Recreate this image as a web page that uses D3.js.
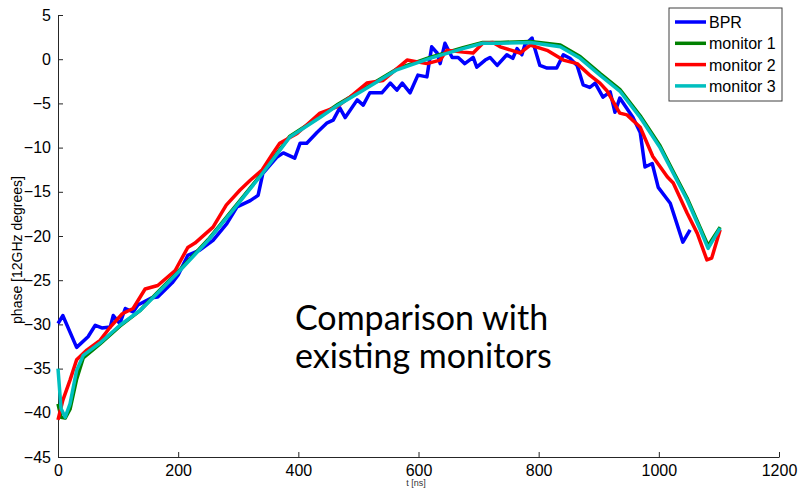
<!DOCTYPE html>
<html>
<head>
<meta charset="utf-8">
<script src="https://cdn.jsdelivr.net/npm/d3@7"></script>
<style>
  body { margin: 0; background: #fff; }
  svg { display: block; }
</style>
</head>
<body>
<div id="chart"></div>
<script>
// BPR (noisy)
var bprT = [0, 8, 31, 50, 62, 73, 87, 92, 103, 112, 125, 133, 156, 166, 190, 200, 216, 236, 258, 281, 298, 320, 333, 341, 364, 375, 394, 403, 414, 431, 448, 458, 469, 478, 498, 508, 519, 539, 553, 564, 573, 586, 599, 614, 622, 631, 636, 644, 656, 666, 677, 691, 697, 711, 719, 731, 747, 757, 764, 772, 777, 789, 791, 802, 814, 830, 841, 852, 864, 874, 885, 894, 907, 919, 927, 935, 957, 969, 977, 989, 999, 1019, 1030, 1040, 1052];
var bprV = [-29.9, -29, -32.6, -31.4, -30.1, -30.4, -30.3, -29, -29.9, -28.2, -28.6, -27.8, -27, -26.9, -25.3, -24.4, -22.2, -21.6, -20.5, -18.6, -16.7, -16, -15.4, -12.9, -11.1, -10.6, -11.2, -9.5, -9.5, -8.3, -7.2, -6.9, -5.5, -6.6, -4.6, -5.2, -3.8, -3.8, -2.7, -3.5, -2.7, -3.8, -1.8, -2.0, 1.4, 0.7, -0.5, 1.8, 0.2, 0.2, -0.5, 0.2, -0.9, -0.1, 0.2, -0.7, 0.5, 0.1, 1.2, 0.5, 1.6, 2.4, 1.8, -0.7, -1.0, -1.0, 0.5, 0.1, -0.7, -2.9, -3.2, -2.7, -4.3, -3.7, -6, -4.4, -6.6, -8.3, -12.2, -11.8, -14.5, -16.3, -18.6, -20.7, -19.3];

// monitor 1
var mon1T = [0, 5, 12, 20, 31, 42, 70, 103, 137, 161, 203, 250, 291, 336, 386, 436, 466, 508, 564, 619, 674, 707, 736, 786, 836, 869, 902, 935, 969, 1002, 1024, 1047, 1069, 1082, 1102];
var mon1V = [-39, -40.5, -40.6, -39.6, -36.2, -33.8, -32.2, -30.2, -28.4, -26.7, -23.8, -20.4, -17, -13.2, -8.7, -6.5, -5.1, -3.4, -1.1, 0.2, 1.3, 1.9, 1.9, 2.0, 1.6, 0.3, -1.6, -3.4, -6.4, -9.8, -12.7, -15.7, -19.1, -21.1, -19.0];

// monitor 2
var mon2T = [0, 8, 20, 31, 48, 70, 87, 107, 125, 145, 166, 195, 216, 228, 258, 280, 303, 320, 340, 358, 369, 398, 436, 464, 486, 514, 541, 581, 614, 636, 647, 674, 691, 707, 724, 736, 769, 786, 814, 841, 864, 885, 902, 914, 935, 947, 969, 990, 1014, 1024, 1047, 1064, 1080, 1088, 1102];
var mon2V = [-40.8, -38.6, -36.3, -34, -32.9, -31.8, -30.3, -28.8, -28.2, -26, -25.6, -23.9, -21.3, -20.8, -19, -16.5, -14.8, -13.7, -12.5, -10.6, -9.5, -8.4, -6.1, -5.4, -4.3, -2.7, -2.4, -0.1, -0.5, -0.1, 1.0, 0.8, 0.7, 1.8, 1.9, 1.4, 0.7, 1.6, 1.0, -0.1, -0.5, -1.8, -2.7, -3.6, -6.1, -6.3, -7.7, -11, -13.3, -14, -17.4, -19.7, -22.7, -22.5, -19.3];

// monitor 3
var mon3T = [0, 5, 12, 20, 31, 42, 70, 103, 137, 161, 203, 250, 291, 336, 386, 436, 466, 508, 564, 619, 674, 707, 736, 786, 836, 869, 902, 935, 969, 1002, 1024, 1047, 1069, 1082, 1102];
var mon3V = [-35, -39.5, -40.5, -39, -35.2, -33.5, -32.1, -30.1, -28.4, -26.8, -23.9, -20.5, -17.1, -13.3, -8.8, -6.6, -5.2, -3.5, -1.2, 0.1, 1.2, 1.8, 1.8, 1.9, 1.4, 0.1, -1.8, -3.6, -6.6, -10, -12.9, -15.9, -19.3, -21.4, -19.1];

var seriesNames = ["BPR", "monitor 1", "monitor 2", "monitor 3"];
var seriesColors = ["#0000ff", "#008000", "#ff0000", "#00bfbf"];
var xTicks = [0, 200, 400, 600, 800, 1000, 1200];
var yTicks = [5, 0, -5, -10, -15, -20, -25, -30, -35, -40, -45];

var series = [
  {name: seriesNames[0], t: bprT, v: bprV},
  {name: seriesNames[1], t: mon1T, v: mon1V},
  {name: seriesNames[2], t: mon2T, v: mon2V},
  {name: seriesNames[3], t: mon3T, v: mon3V}
];

var font = "'Liberation Sans', Arial, sans-serif";

var margin = {top: 15, right: 19, bottom: 36, left: 58},
    width = 798 - margin.left - margin.right,
    height = 493 - margin.top - margin.bottom;

var svg = d3.select("#chart")
  .append("svg")
    .attr("width", 798)
    .attr("height", 493)
  .append("g")
    .attr("transform", "translate(" + margin.left + "," + margin.top + ")");

var x = d3.scaleLinear().domain([0, 1200]).range([0, width]);
var y = d3.scaleLinear().domain([-45, 5]).range([height, 0]);

// axes, ticks pointing inside
var xAxis = svg.append("g")
  .attr("transform", "translate(0," + height + ")")
  .call(d3.axisBottom(x).tickValues(xTicks).tickFormat(d3.format("d"))
    .tickSizeInner(-5).tickSizeOuter(0).tickPadding(8));
var yAxis = svg.append("g")
  .call(d3.axisLeft(y).tickValues(yTicks).tickFormat(d3.format("d"))
    .tickSizeInner(-5).tickSizeOuter(0).tickPadding(7));

[xAxis, yAxis].forEach(function(a) {
  a.attr("font-family", font).attr("font-size", 16);
  a.select(".domain").attr("stroke", "#262626");
  a.selectAll(".tick line").attr("stroke", "#262626");
  a.selectAll("text").attr("fill", "#000");
});

// lines
var line = d3.line()
  .x(function(d) { return x(d[0]); })
  .y(function(d) { return y(d[1]); });

series.forEach(function(s, i) {
  var pts = s.t.map(function(t, j) { return [t, s.v[j]]; });
  svg.append("path")
    .datum(pts)
    .attr("fill", "none")
    .attr("stroke", seriesColors[i])
    .attr("stroke-width", 3.5)
    .attr("stroke-linejoin", "round")
    .attr("d", line);
});

// axis labels
svg.append("text")
  .attr("transform", "translate(-36," + (height / 2 + 14) + ")rotate(-90)")
  .attr("text-anchor", "middle")
  .attr("font-family", font)
  .attr("font-size", 14)
  .text("phase [12GHz degrees]");

svg.append("text")
  .attr("x", 416 - margin.left)
  .attr("y", 486 - margin.top)
  .attr("text-anchor", "middle")
  .attr("font-family", font)
  .attr("font-size", 9)
  .attr("fill", "#333")
  .text("t [ns]");

// legend
var legend = svg.append("g")
  .attr("transform", "translate(" + (669 - margin.left) + "," + (8 - margin.top) + ")");
legend.append("rect")
  .attr("width", 113)
  .attr("height", 93)
  .attr("fill", "#fff")
  .attr("stroke", "#404040")
  .attr("stroke-width", 1);
seriesNames.forEach(function(n, i) {
  var yy = 14 + i * 21.3;
  legend.append("line")
    .attr("x1", 6).attr("x2", 37)
    .attr("y1", yy).attr("y2", yy)
    .attr("stroke", seriesColors[i])
    .attr("stroke-width", 3.5);
  legend.append("text")
    .attr("x", 40)
    .attr("y", yy + 6)
    .attr("font-family", font)
    .attr("font-size", 16)
    .text(n);
});

// annotation
var note = svg.append("text")
  .attr("font-family", "Lato, 'Open Sans', sans-serif")
  .attr("font-size", 34)
  .attr("fill", "#000");
note.append("tspan").attr("x", 295 - margin.left).attr("y", 330 - margin.top).text("Comparison with");
note.append("tspan").attr("x", 295 - margin.left).attr("y", 368 - margin.top).text("existing monitors");
</script>
</body>
</html>
